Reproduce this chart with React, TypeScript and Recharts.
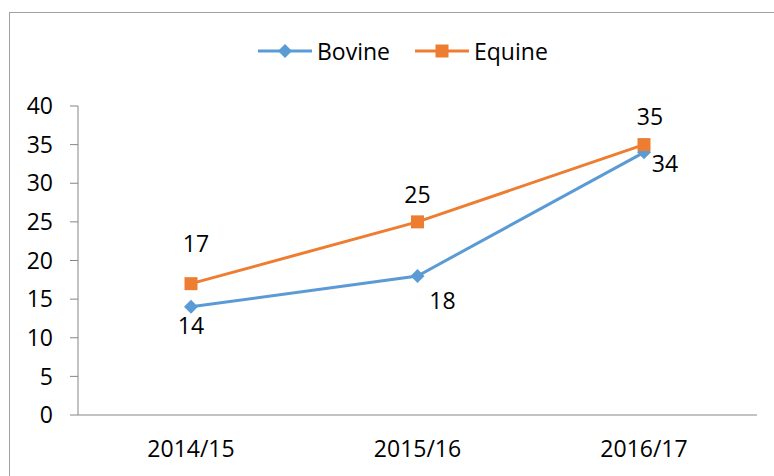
import { LineChart, Line, XAxis, YAxis, Legend, LabelList } from "recharts";

const years = ["2014/15", "2015/16", "2016/17"];
const bovine = [14, 18, 34];
const equine = [17, 25, 35];
const yTicks = [0, 5, 10, 15, 20, 25, 30, 35, 40];

// label nudges (px) relative to each point, like the hand-moved Excel labels
const bovineNudge = [
  [0, 18],
  [25, 24],
  [21, 11],
];
const equineNudge = [
  [5, -41],
  [0, -28],
  [6, -29],
];

const data = years.map((year, i) => ({ year, bovine: bovine[i], equine: equine[i] }));

const BLUE = "#5B9BD5";
const ORANGE = "#ED7D31";
const FONT = "'Open Sans', sans-serif";

const Diamond = (props: any) => {
  const { cx, cy } = props;
  if (cx == null || cy == null) return null;
  const r = 7;
  return (
    <path
      key={`d-${props.index}`}
      d={`M${cx},${cy - r}L${cx + r},${cy}L${cx},${cy + r}L${cx - r},${cy}Z`}
      fill={BLUE}
    />
  );
};

const Square = (props: any) => {
  const { cx, cy } = props;
  if (cx == null || cy == null) return null;
  const s = 13;
  return <rect key={`s-${props.index}`} x={cx - s / 2} y={cy - s / 2} width={s} height={s} fill={ORANGE} />;
};

const makeLabel = (nudge: number[][]) => (props: any) => {
  const { x, y, value, index } = props;
  const [dx, dy] = nudge[index] || [0, 0];
  return (
    <text
      x={x + dx}
      y={y + dy}
      textAnchor="middle"
      dominantBaseline="central"
      fontSize={23}
      fontFamily={FONT}
      fill="#000"
    >
      {value}
    </text>
  );
};

const LegendBox = () => (
  <div style={{ display: "flex", alignItems: "center", fontFamily: FONT, fontSize: 23, color: "#000" }}>
    {[
      { name: "Bovine", color: BLUE, marker: "diamond" },
      { name: "Equine", color: ORANGE, marker: "square" },
    ].map((it, i) => (
      <div key={it.name} style={{ display: "flex", alignItems: "center", marginLeft: i ? 25 : 0 }}>
        <svg width={54} height={16}>
          <line x1={0} y1={8} x2={54} y2={8} stroke={it.color} strokeWidth={3} />
          {it.marker === "diamond" ? (
            <path d="M27,1L34,8L27,15L20,8Z" fill={it.color} />
          ) : (
            <rect x={20.5} y={1.5} width={13} height={13} fill={it.color} />
          )}
        </svg>
        <span style={{ marginLeft: 5, lineHeight: "30px" }}>{it.name}</span>
      </div>
    ))}
  </div>
);

export default function App() {
  return (
    <div style={{ position: "absolute", left: 0, top: 0, width: 774, height: 476, overflow: "hidden", background: "#fff" }}>
      <div
        style={{
          position: "absolute",
          left: 9,
          top: 12,
          width: 820,
          height: 520,
          border: "1px solid #a0a0a0",
        }}
      />
      <div style={{ position: "absolute", left: 0, top: 0 }}>
        <LineChart width={774} height={476} data={data} margin={{ top: 106, right: 17, bottom: 0, left: 0 }}>
          <XAxis
            dataKey="year"
            height={61}
            padding={{ left: 113, right: 113 }}
            axisLine={{ stroke: "#868686" }}
            tickLine={false}
            tickMargin={20}
            tick={{ fill: "#000", fontSize: 23, fontFamily: FONT }}
          />
          <YAxis
            width={78}
            domain={[0, 40]}
            ticks={yTicks}
            interval={0}
            axisLine={{ stroke: "#868686" }}
            tickLine={{ stroke: "#868686" }}
            tickSize={8}
            tickMargin={17}
            tick={{ fill: "#000", fontSize: 23, fontFamily: FONT }}
          />
          <Legend
            verticalAlign="middle"
            align="center"
            wrapperStyle={{ top: 36, left: 258, width: "auto" }}
            content={() => <LegendBox />}
          />
          <Line
            dataKey="bovine"
            name="Bovine"
            stroke={BLUE}
            strokeWidth={3}
            dot={Diamond}
            activeDot={false}
            isAnimationActive={false}
          >
            <LabelList dataKey="bovine" content={makeLabel(bovineNudge)} />
          </Line>
          <Line
            dataKey="equine"
            name="Equine"
            stroke={ORANGE}
            strokeWidth={3}
            dot={Square}
            activeDot={false}
            isAnimationActive={false}
          >
            <LabelList dataKey="equine" content={makeLabel(equineNudge)} />
          </Line>
        </LineChart>
      </div>
    </div>
  );
}
